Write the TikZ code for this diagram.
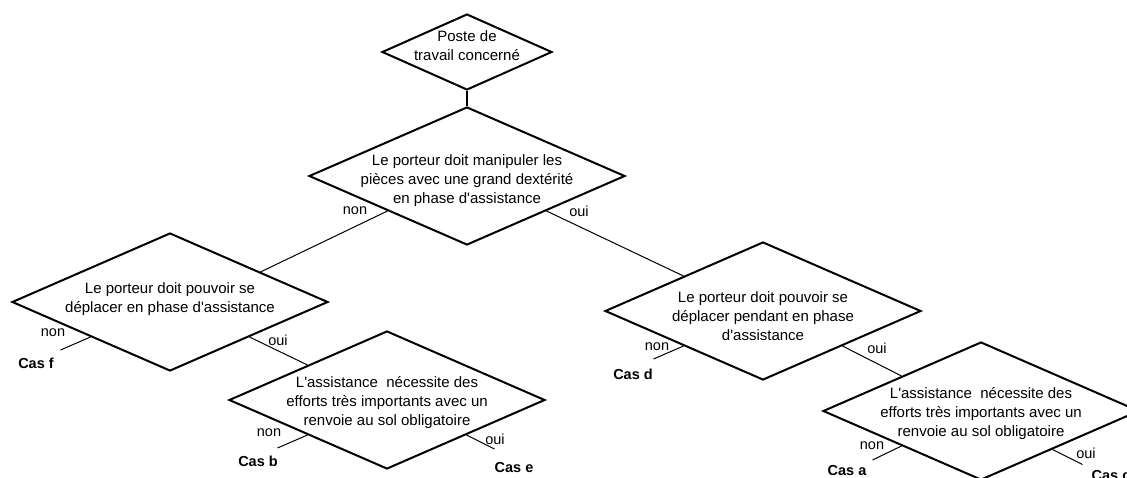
\documentclass[tikz,border=0pt]{standalone}
\usepackage{fontspec}
\setmainfont{Liberation Sans}[Ligatures=TeXOff]
\usetikzlibrary{positioning,shapes.geometric,calc}

\newcommand{\qtxt}[2][-6pt]{\raisebox{#1}[0pt][0pt]{\makebox[0pt]{\begin{tabular}{@{}c@{}}#2\end{tabular}}}}
\tikzset{
	question/.style={diamond,draw,line width=2pt,inner sep=0pt,minimum width=316pt,minimum height=138pt,font=\fontsize{15}{19}\selectfont},
	branch/.style={line width=1pt},
	answer/.style={font=\fontsize{14.5}{17}\selectfont},
	outcome/.style={font=\fontsize{14.5}{17}\selectfont\bfseries}
}

\begin{document}
\begin{tikzpicture}[x=1pt,y=-1pt]
		\useasboundingbox (0,0) rectangle (1127,477);
		\clip (0,0) rectangle (1127,477);
		% questions
		\node[question,minimum width=170pt,minimum height=76pt] (poste) at (467,52) {\qtxt[1pt]{Poste de\\travail concerné}};
		\node[question] (q1) at (467,176) {\qtxt[-8pt]{Le porteur doit manipuler les\\pièces avec une grand dextérité\\en phase d'assistance}};
		\node[question] (q2) at (170,302) {\qtxt[-1pt]{Le porteur doit pouvoir se\\déplacer en phase d'assistance}};
		\node[question] (q3) at (763,311) {\qtxt[-10pt]{Le porteur doit pouvoir se\\déplacer pendant en phase\\d'assistance}};
		\node[question] (q4) at (387,400) {\qtxt{L'assistance \ nécessite des\\efforts très importants avec un\\renvoie au sol obligatoire}};
		\node[question] (q5) at (981,411) {\qtxt{L'assistance \ nécessite des\\efforts très importants avec un\\renvoie au sol obligatoire}};
		% links
		\draw[line width=2pt] (poste.south) -- (q1.north);
		\draw[branch] (q1.south west) -- ($(q2.north)!.57!(q2.east)$);
		\draw[branch] (q1.south east) -- (q3.north west);
		\draw[branch] (q2.south east) -- (q4.north west);
		\draw[branch] (q3.south east) -- (q5.north west);
		\draw[branch] (q2.south west) -- ++(-30,13) coordinate (endf);
		\draw[branch] (q4.south west) -- ++(-30,13) coordinate (endb);
		\draw[branch] (q4.south east) -- ++(28,14) coordinate (ende);
		\draw[branch] (q3.south west) -- ++(-30,13) coordinate (endd);
		\draw[branch] (q5.south west) -- ++(-29,14) coordinate (enda);
		\draw[branch] ($(q5.east)!.55!(q5.south)$) -- ++(30,15) coordinate (endc);
		% answers
		\node[answer] (no1) at (355,211) {non};
		\node[answer] (yes1) at (579,211) {oui};
		\node[answer] (no2) at (53,333) {non};
		\node[answer] (yes2) at (278,340) {oui};
		\node[answer] (no4) at (269,433) {non};
		\node[answer] (yes4) at (495,439) {oui};
		\node[answer] (no3) at (657,347) {non};
		\node[answer] (yes3) at (877,348) {oui};
		\node[answer] (no5) at (872,446) {non};
		\node[answer] (yes5) at (1086,453) {oui};
		\node[outcome] (casF) at (36,363) {Cas f};
		\node[outcome] (casB) at (258,461) {Cas b};
		\node[outcome] (casE) at (514,468) {Cas e};
		\node[outcome] (casD) at (633,374) {Cas d};
		\node[outcome] (casA) at (847,471) {Cas a};
		\node[outcome] (casC) at (1111,476) {Cas c};
	\end{tikzpicture}
\end{document}
